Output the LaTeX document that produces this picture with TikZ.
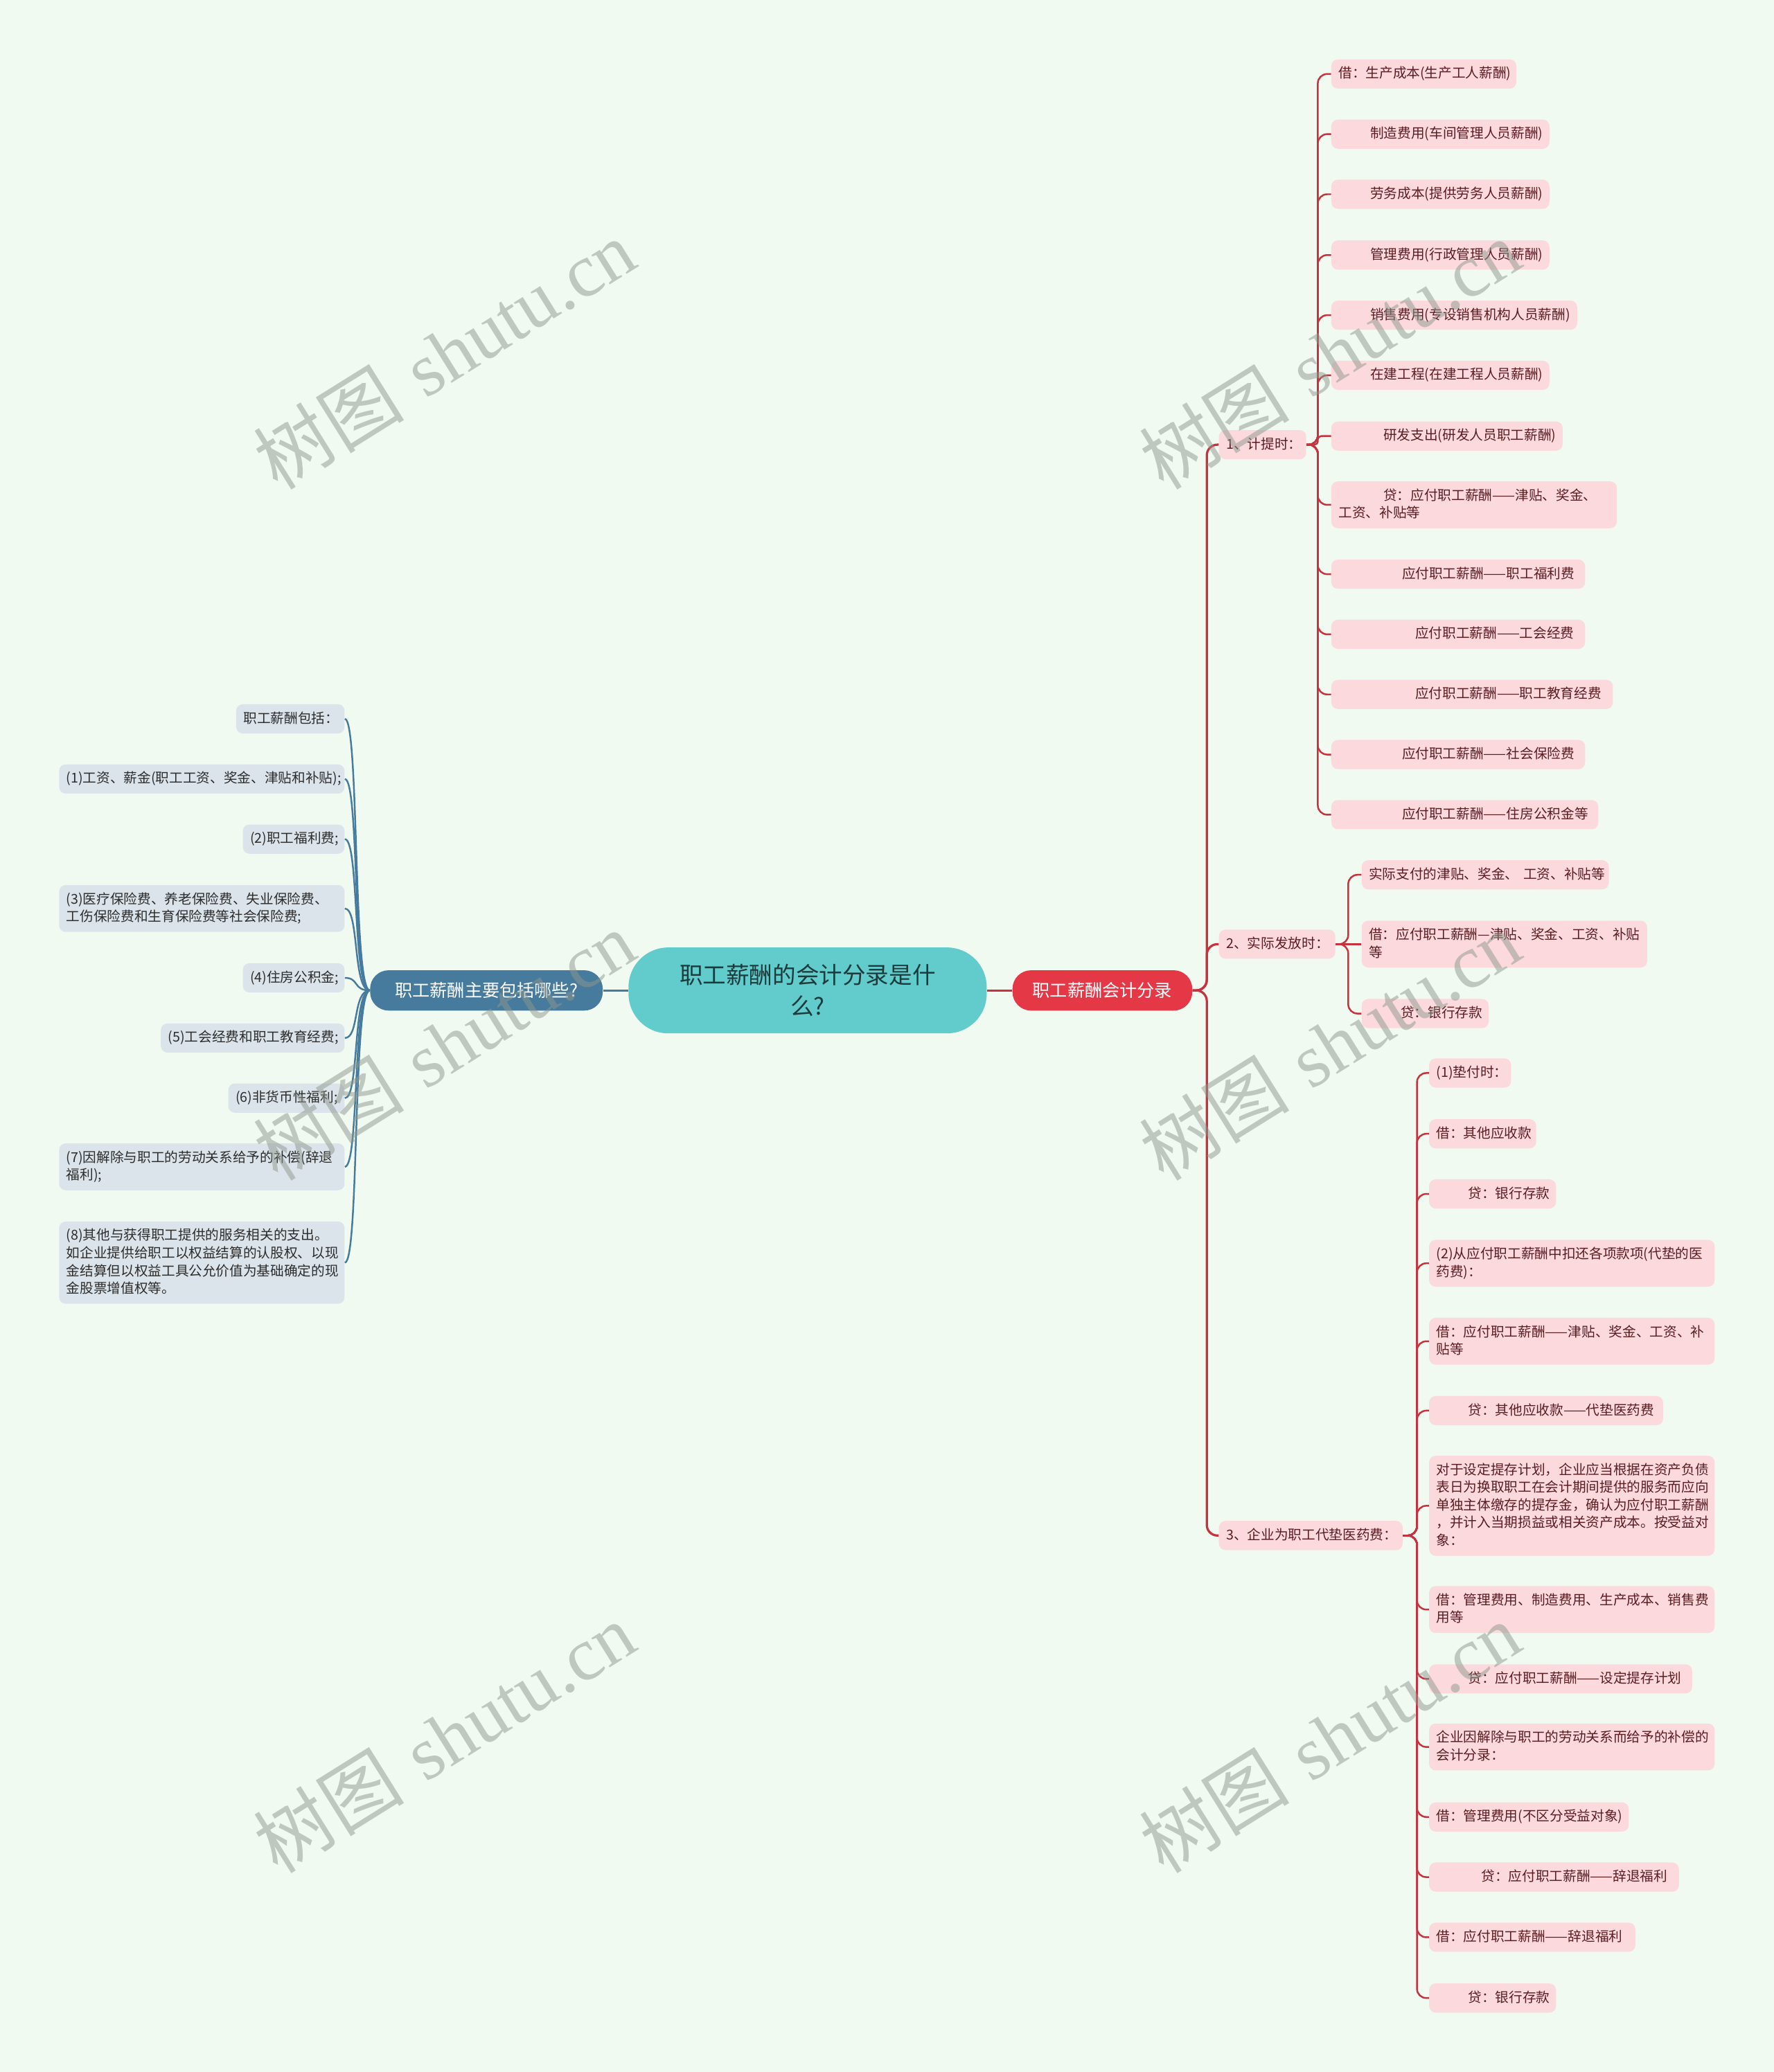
\documentclass[tikz,border=0pt]{standalone}
\usepackage{fontspec}
\newfontfamily\cjk{Noto Sans CJK SC}
\newfontfamily\wmserif{Liberation Serif}
\definecolor{bgc}{HTML}{F1FAF0}
\definecolor{pinkf}{HTML}{FBD9DD}
\definecolor{pinkt}{HTML}{5A1D22}
\definecolor{redl}{HTML}{C6323E}
\definecolor{redn}{HTML}{E53847}
\definecolor{tealc}{HTML}{62CBCB}
\definecolor{ctext}{HTML}{1D3A3C}
\definecolor{bluen}{HTML}{467B9D}
\definecolor{bluel}{HTML}{467B9D}
\definecolor{greyf}{HTML}{DCE4EB}
\definecolor{greyt}{HTML}{2C2C2C}
\definecolor{wmc}{HTML}{8E988E}
\newcommand\lffont{\cjk\fontsize{10.3}{13.4}\selectfont\parindent=0pt\exhyphenpenalty=10000\hyphenpenalty=10000}
\newcommand\oneline[1]{\mbox{#1}}
\tikzset{
  leaf/.style={rounded corners=5pt, inner xsep=5.5pt, inner ysep=5.7pt, text height=8.5pt,
    align=left, anchor=west, font=\lffont, execute at end node={\rule[-2.2pt]{0pt}{2.2pt}}},
  pk/.style={leaf, fill=pinkf, text=pinkt},
  gy/.style={leaf, fill=greyf, text=greyt},
  rl/.style={draw=redl, line width=1.7pt, rounded corners=8pt},
  rs/.style={draw=redl, line width=1.3pt, rounded corners=7pt},
  bl/.style={draw=bluel, line width=1.4pt},
  wm/.style={text=wmc, opacity=0.5, rotate=32, inner sep=0pt, font=\fontsize{57}{60}\selectfont},
  mainnode/.style={inner sep=0pt, text=white, font=\cjk\fontsize{13.2}{16}\selectfont,
    minimum height=30.5pt, rounded corners=14pt}
}
\begin{document}
\begin{tikzpicture}[x=1pt,y=-1pt]
\fill[bgc] (0,0) rectangle (1342,1568);
\useasboundingbox (0,0) rectangle (1342,1568);

% main nodes
\node[fill=tealc, rounded corners=30pt, minimum width=271pt, minimum height=65pt, inner sep=0pt,
  text width=205pt, align=center, text=ctext, font=\cjk\fontsize{17.6}{23.5}\selectfont]
  (c) at (611,749.5) {职工薪酬的会计分录是什\\么?};
\node[mainnode, fill=redn, minimum width=136pt] (rn) at (834,749.5) {职工薪酬会计分录};
\node[mainnode, fill=bluen, minimum width=176pt] (ln) at (368,749.5) {职工薪酬主要包括哪些?};

% right level 1
\node[pk, text width=55pt] (P1) at (922,336.5) {\oneline{1、计提时：}};
\node[pk, text width=77pt] (P2) at (922,714.5) {\oneline{2、实际发放时：}};
\node[pk, text width=128pt] (P3) at (922,1162) {\oneline{3、企业为职工代垫医药费：}};

% children of P1
\node[pk, text width=129pt] (r1a) at (1007,56) {\oneline{借：生产成本(生产工人薪酬)}};
\node[pk, text width=154pt] (r1b) at (1007,101.5) {\oneline{\hspace*{24pt}制造费用(车间管理人员薪酬)}};
\node[pk, text width=154pt] (r1c) at (1007,147) {\oneline{\hspace*{24pt}劳务成本(提供劳务人员薪酬)}};
\node[pk, text width=154pt] (r1d) at (1007,193) {\oneline{\hspace*{24pt}管理费用(行政管理人员薪酬)}};
\node[pk, text width=175pt] (r1e) at (1007,238.5) {\oneline{\hspace*{24pt}销售费用(专设销售机构人员薪酬)}};
\node[pk, text width=154pt] (r1f) at (1007,284) {\oneline{\hspace*{24pt}在建工程(在建工程人员薪酬)}};
\node[pk, text width=164pt] (r1g) at (1007,330) {\oneline{\hspace*{34pt}研发支出(研发人员职工薪酬)}};
\node[pk, text width=205pt] (r1h) at (1007,382) {\oneline{\hspace*{34pt}贷：应付职工薪酬——津贴、奖金、}\\工资、补贴等};
\node[pk, text width=181pt] (r1i) at (1007,434.5) {\oneline{\hspace*{48pt}应付职工薪酬——职工福利费}};
\node[pk, text width=181pt] (r1j) at (1007,480) {\oneline{\hspace*{58pt}应付职工薪酬——工会经费}};
\node[pk, text width=202pt] (r1k) at (1007,525.5) {\oneline{\hspace*{58pt}应付职工薪酬——职工教育经费}};
\node[pk, text width=181pt] (r1l) at (1007,571) {\oneline{\hspace*{48pt}应付职工薪酬——社会保险费}};
\node[pk, text width=191pt] (r1m) at (1007,616.5) {\oneline{\hspace*{48pt}应付职工薪酬——住房公积金等}};

% children of P2
\node[pk, text width=176pt] (r2a) at (1030,662) {\oneline{实际支付的津贴、奖金、 工资、补贴等}};
\node[pk, text width=205pt] (r2b) at (1030,714.5) {\oneline{借：应付职工薪酬—津贴、奖金、工资、补贴}\\等};
\node[pk, text width=85pt] (r2c) at (1030,767) {\oneline{\hspace*{24pt}贷：银行存款}};

% children of P3
\node[pk, text width=51pt] (r3a) at (1081,812) {\oneline{(1)垫付时：}};
\node[pk, text width=70pt] (r3b) at (1081,858) {\oneline{借：其他应收款}};
\node[pk, text width=85pt] (r3c) at (1081,903.5) {\oneline{\hspace*{24pt}贷：银行存款}};
\node[pk, text width=205pt] (r3d) at (1081,956) {\oneline{(2)从应付职工薪酬中扣还各项款项(代垫的医}\\药费)：};
\node[pk, text width=205pt] (r3e) at (1081,1015) {\oneline{借：应付职工薪酬——津贴、奖金、工资、补}\\贴等};
\node[pk, text width=166pt] (r3f) at (1081,1067.5) {\oneline{\hspace*{24pt}贷：其他应收款——代垫医药费}};
\node[pk, text width=205pt] (r3g) at (1081,1139.5) {\oneline{对于设定提存计划，企业应当根据在资产负债}\\\oneline{表日为换取职工在会计期间提供的服务而应向}\\\oneline{单独主体缴存的提存金，确认为应付职工薪酬}\\\oneline{，并计入当期损益或相关资产成本。按受益对}\\象：};
\node[pk, text width=205pt] (r3h) at (1081,1218) {\oneline{借：管理费用、制造费用、生产成本、销售费}\\用等};
\node[pk, text width=188pt] (r3i) at (1081,1270.5) {\oneline{\hspace*{24pt}贷：应付职工薪酬——设定提存计划}};
\node[pk, text width=205pt] (r3j) at (1081,1322) {\oneline{企业因解除与职工的劳动关系而给予的补偿的}\\会计分录：};
\node[pk, text width=140pt] (r3k) at (1081,1375) {\oneline{借：管理费用(不区分受益对象)}};
\node[pk, text width=178pt] (r3l) at (1081,1420.5) {\oneline{\hspace*{34pt}贷：应付职工薪酬——辞退福利}};
\node[pk, text width=145pt] (r3m) at (1081,1466) {\oneline{借：应付职工薪酬——辞退福利}};
\node[pk, text width=85pt] (r3n) at (1081,1512) {\oneline{\hspace*{24pt}贷：银行存款}};

% left children
\node[gy, text width=71pt] (l1) at (178.5,544) {\oneline{职工薪酬包括：}};
\node[gy, text width=205pt] (l2) at (44.5,589.5) {\oneline{(1)工资、薪金(职工工资、奖金、津贴和补贴);}};
\node[gy, text width=66pt] (l3) at (183.5,635) {\oneline{(2)职工福利费;}};
\node[gy, text width=205pt] (l4) at (44.5,687.5) {\oneline{(3)医疗保险费、养老保险费、失业保险费、}\\\oneline{工伤保险费和生育保险费等社会保险费;}};
\node[gy, text width=66pt] (l5) at (183.5,740) {\oneline{(4)住房公积金;}};
\node[gy, text width=128pt] (l6) at (121.5,785.5) {\oneline{(5)工会经费和职工教育经费;}};
\node[gy, text width=77pt] (l7) at (172.5,831) {\oneline{(6)非货币性福利;}};
\node[gy, text width=205pt] (l8) at (44.5,883) {\oneline{(7)因解除与职工的劳动关系给予的补偿(辞退}\\福利);};
\node[gy, text width=205pt] (l9) at (44.5,955.5) {\oneline{(8)其他与获得职工提供的服务相关的支出。}\\\oneline{如企业提供给职工以权益结算的认股权、以现}\\\oneline{金结算但以权益工具公允价值为基础确定的现}\\金股票增值权等。};

% trunk coordinates
\coordinate (tA) at (913,749.5);
\coordinate (tB) at (997,336.5);
\coordinate (tC) at (1020,714.5);
\coordinate (tD) at (1072,1162);

% connectors centre
\draw[bl] (c.west) -- (ln.east);
\draw[draw=redl, line width=1.7pt] (c.east) -- (rn.west);

% right main trunk
\foreach \p in {P1,P2,P3}
  \draw[rl] (rn.east) -- (rn.east -| tA) |- (\p.west);

% P1 children
\foreach \ch in {r1a,r1b,r1c,r1d,r1e,r1f,r1h,r1i,r1j,r1k,r1l,r1m}
  \draw[rs] (P1.east) -- (P1.east -| tB) |- (\ch.west);
\draw[rs, rounded corners=2.5pt] (P1.east) -- (P1.east -| tB) |- (r1g.west);

% P2 children
\draw[rs] (P2.east) -- (P2.east -| tC) |- (r2a.west);
\draw[rs] (P2.east) -- (r2b.west);
\draw[rs] (P2.east) -- (P2.east -| tC) |- (r2c.west);

% P3 children
\foreach \ch in {r3a,r3b,r3c,r3d,r3e,r3f,r3g,r3h,r3i,r3j,r3k,r3l,r3m,r3n}
  \draw[rs] (P3.east) -- (P3.east -| tD) |- (\ch.west);

% left curves
\foreach \ch in {l1,l2,l3,l4,l5,l6,l7,l8,l9}
  \draw[bl, line width=1.3pt] (ln.west) .. controls +(-13,0) and +(11,0) .. (\ch.east);

% watermarks
\foreach \wx/\wy [count=\i] in {336/268, 1006/268, 336/791, 1006/791, 336/1315, 1006/1315}
  \node[wm] (wm\i) at (\wx,\wy) {{\cjk 树图} {\wmserif shutu.cn}};
\end{tikzpicture}
\end{document}
